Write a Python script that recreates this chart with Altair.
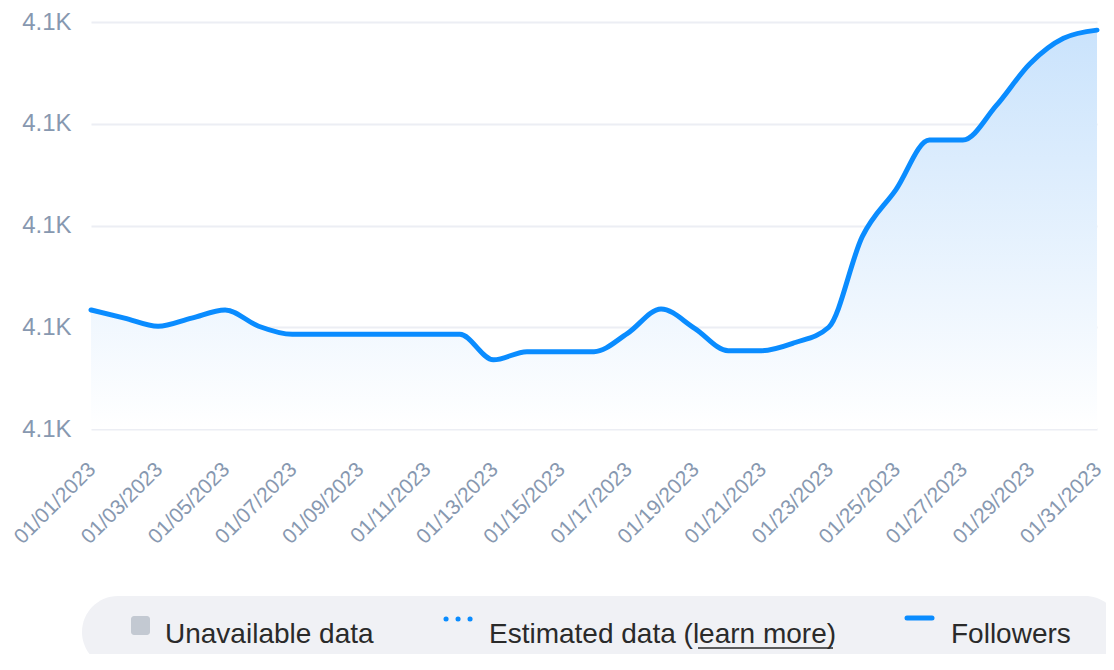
import altair as alt
import pandas as pd

dates = [f"01/{d:02d}/2023" for d in range(1, 32)]
followers = [4111.7, 4110.9, 4110.1, 4110.9, 4111.7, 4110.1, 4109.3, 4109.3,
             4109.3, 4109.3, 4109.3, 4109.3, 4106.8, 4107.6, 4107.6, 4107.6,
             4109.4, 4111.8, 4109.9, 4107.7, 4107.7, 4108.5, 4110.0, 4118.9,
             4123.5, 4128.4, 4128.4, 4131.8, 4135.9, 4138.4, 4139.2]
y_ticks = [4100, 4110, 4120, 4130, 4140]
x_ticks = dates[::2]
legend_labels = ["Unavailable data", "Estimated data (learn more)", "Followers"]

df = pd.DataFrame({"date": dates, "followers": followers, "base": 4100})

FONT = "Liberation Sans"
AX = "#8798b0"
BLUE = "#0a8cff"

xenc = alt.X("date:N", sort=None, scale=alt.Scale(type="point", padding=0),
             axis=alt.Axis(values=x_ticks, labelAngle=-45, labelAlign="right",
                           labelBaseline="middle", labelPadding=37, labelOffset=1,
                           labelFontSize=21, labelColor=AX, labelFont=FONT,
                           ticks=False, domain=False, grid=False, title=None))
yscale = alt.Scale(domain=[4100, 4140], nice=False, zero=False)
yenc = alt.Y("followers:Q", scale=yscale,
             axis=alt.Axis(values=y_ticks, labelExpr="format(datum.value/1000,'.1f')+'K'",
                           labelFontSize=24, labelColor=AX, labelFont=FONT,
                           labelPadding=20, ticks=False, domain=False,
                           grid=True, gridColor="#eceef4", gridWidth=2, title=None))

area = alt.Chart(df).mark_area(
    interpolate="monotone",
    color=alt.Gradient(gradient="linear", x1=0, y1=0, x2=0, y2=1,
                       stops=[alt.GradientStop(color="#cae3fc", offset=0),
                              alt.GradientStop(color="#ffffff", offset=1)])
).encode(x=xenc, y=yenc, y2="base:Q")

line = alt.Chart(df).mark_line(interpolate="monotone", color=BLUE, strokeWidth=5,
                               strokeCap="round").encode(x=xenc, y=yenc)

# legend decorations (outside plot area)
pill = alt.Chart(df.head(1)).mark_rect(color="#f0f1f5", cornerRadius=36).encode(
    x=alt.value(-9), x2=alt.value(1030), y=alt.value(574), y2=alt.value(646))
square = alt.Chart(df.head(1)).mark_rect(color="#c3c9d2", cornerRadius=3).encode(
    x=alt.value(40), x2=alt.value(59), y=alt.value(594), y2=alt.value(613))
dots = alt.Chart(df.head(1)).mark_rule(color=BLUE, strokeWidth=5, strokeCap="round",
                                       strokeDash=[0.1, 11.9]).encode(
    x=alt.value(355), x2=alt.value(381), y=alt.value(597))
dash = alt.Chart(df.head(1)).mark_rule(color=BLUE, strokeWidth=5, strokeCap="round").encode(
    x=alt.value(816), x2=alt.value(841), y=alt.value(596))
underline = alt.Chart(df.head(1)).mark_rule(color="#2a2a2a", strokeWidth=1.5).encode(
    x=alt.value(607), x2=alt.value(742), y=alt.value(626))

def txt(label, xpos):
    return alt.Chart(df.head(1)).mark_text(
        text=label, align="left", baseline="alphabetic", font=FONT, fontSize=28,
        color="#2a2a2a").encode(x=alt.value(xpos), y=alt.value(621))

texts = [txt(legend_labels[0], 74), txt(legend_labels[1], 398), txt(legend_labels[2], 860)]

chart = alt.layer(area, line, pill, square, dots, dash, underline, *texts).properties(
    width=1006, height=407,
    autosize=alt.AutoSizeParams(type="none"),
    padding={"left": 83, "top": 14, "right": 9, "bottom": 225},
).configure(background="white").configure_view(stroke="transparent", strokeWidth=0)

chart.save("out.html", embed_options={"renderer": "svg", "actions": False})
